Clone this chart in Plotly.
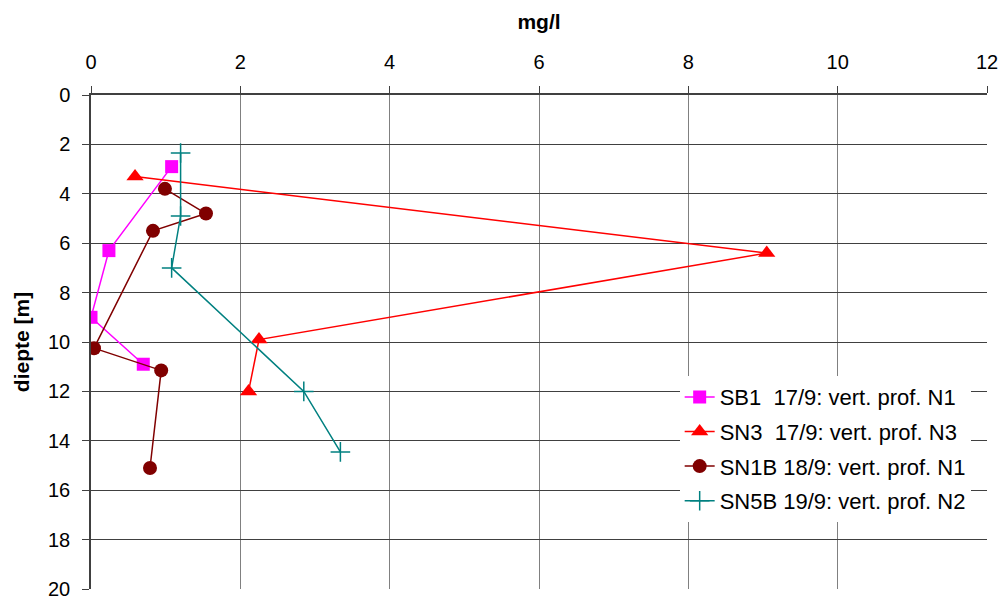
import plotly.graph_objects as go

# Vertical concentration profiles (mg/l against depth in m)
sb1_mg = [1.08, 0.24, 0.00, 0.70]
sb1_depth = [2.9, 6.3, 9.0, 10.9]

sn3_mg = [0.59, 9.05, 2.25, 2.11]
sn3_depth = [3.3, 6.4, 9.9, 12.0]

sn1b_mg = [0.99, 1.54, 0.83, 0.04, 0.94, 0.79]
sn1b_depth = [3.8, 4.8, 5.5, 10.25, 11.15, 15.1]

sn5b_mg = [1.20, 1.20, 1.08, 2.85, 3.34]
sn5b_depth = [2.35, 4.9, 7.0, 12.0, 14.45]

series_names = [
    "SB1  17/9: vert. prof. N1",
    "SN3  17/9: vert. prof. N3",
    "SN1B 18/9: vert. prof. N1",
    "SN5B 19/9: vert. prof. N2",
]

x_ticks = [0, 2, 4, 6, 8, 10, 12]
y_ticks = [0, 2, 4, 6, 8, 10, 12, 14, 16, 18, 20]

font_family = "Liberation Sans, Arial, sans-serif"

fig = go.Figure()

fig.add_trace(go.Scatter(
    x=sb1_mg, y=sb1_depth, name=series_names[0], mode="lines+markers",
    legendgroup="g1",
    line=dict(color="#FF00FF", width=1.5),
    marker=dict(symbol="square", size=13, color="#FF00FF"),
))
fig.add_trace(go.Scatter(
    x=sn3_mg, y=sn3_depth, name=series_names[1], mode="lines+markers",
    legendgroup="g2",
    line=dict(color="#FF0000", width=1.5),
    marker=dict(symbol="triangle-up", size=15, color="#FF0000"),
))
fig.add_trace(go.Scatter(
    x=sn1b_mg, y=sn1b_depth, name=series_names[2], mode="lines+markers",
    legendgroup="g3",
    line=dict(color="#800000", width=1.5),
    marker=dict(symbol="circle", size=14, color="#800000"),
))
fig.add_trace(go.Scatter(
    x=sn5b_mg, y=sn5b_depth, name=series_names[3], mode="lines+markers",
    legendgroup="g4",
    line=dict(color="#008080", width=1.5),
    marker=dict(symbol="cross-thin", size=14, color="#008080",
                line=dict(color="#008080", width=1.5)),
))

fig.update_layout(
    width=1008, height=601,
    margin=dict(l=91, r=21, t=95, b=12, autoexpand=False),
    paper_bgcolor="white", plot_bgcolor="white",
    font=dict(family=font_family, size=20, color="black"),
    legend=dict(
        x=0.657, y=0.431, xanchor="left", yanchor="top",
        bgcolor="white", borderwidth=0,
        font=dict(family=font_family, size=22, color="black"),
        tracegroupgap=3, itemwidth=30,
    ),
    xaxis=dict(
        side="top", range=[0, 12], tickvals=x_ticks,
        ticktext=[str(v) for v in x_ticks],
        showgrid=True, gridcolor="#808080", gridwidth=1.3,
        showline=True, linecolor="#404040", linewidth=1.5,
        ticks="outside", ticklen=7, tickcolor="#404040",
        ticklabelstandoff=9,
        zeroline=False, automargin=False,
        title=dict(text="<b>mg/l</b>", font=dict(size=21), standoff=16),
    ),
    yaxis=dict(
        range=[20, 0], tickvals=y_ticks,
        ticktext=[str(v) for v in y_ticks],
        showgrid=True, gridcolor="#404040", gridwidth=1.2,
        showline=True, linecolor="#404040", linewidth=1.5,
        ticks="outside", ticklen=7, tickcolor="#404040",
        ticklabelstandoff=8,
        zeroline=False, automargin=False,
        title=dict(text="<b>diepte [m]</b>", font=dict(size=21), standoff=13),
    ),
)

fig.write_html("out.html")
